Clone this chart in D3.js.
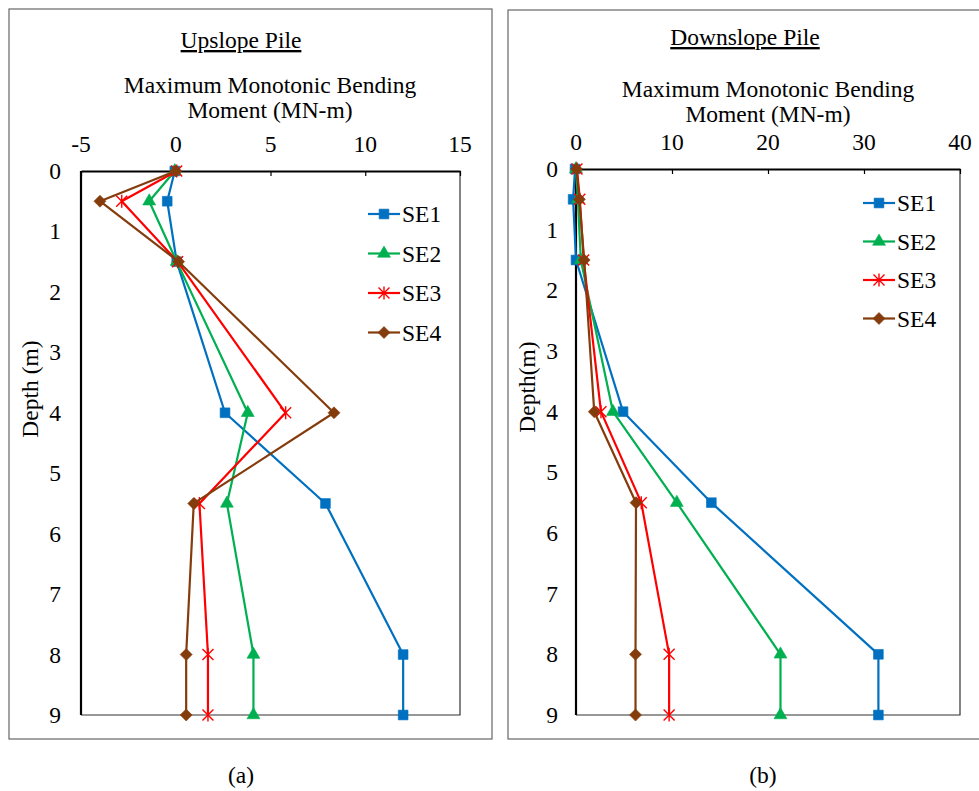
<!DOCTYPE html>
<html>
<head>
<meta charset="utf-8">
<script src="https://cdn.jsdelivr.net/npm/d3@7"></script>
<style>
  html, body { margin: 0; padding: 0; background: #fff; }
  svg { display: block; }
</style>
</head>
<body>
<svg id="chart" width="979" height="791"></svg>
<script>
// Depth of each measurement station (m)
const depths = [0, 0.5, 1.5, 4, 5.5, 8, 9];
const seriesNames = ["SE1", "SE2", "SE3", "SE4"];
const seriesColors = ["#0070C0", "#00B050", "#FF0000", "#843C0C"];
const seriesMarkers = ["square", "triangle", "star", "diamond"];

// Upslope pile: maximum monotonic bending moment (MN-m)
const upSE1 = [-0.05, -0.45, 0.05, 2.6, 7.9, 12.0, 12.0];
const upSE2 = [-0.05, -1.4, 0.05, 3.8, 2.7, 4.1, 4.1];
const upSE3 = [0.05, -2.85, 0.1, 5.8, 1.25, 1.7, 1.7];
const upSE4 = [0.0, -4.0, 0.15, 8.35, 0.95, 0.55, 0.55];

// Downslope pile: maximum monotonic bending moment (MN-m)
const downSE1 = [-0.1, -0.3, 0.0, 4.9, 14.1, 31.5, 31.5];
const downSE2 = [0.0, 0.2, 0.5, 3.85, 10.5, 21.3, 21.3];
const downSE3 = [0.1, 0.4, 0.8, 2.6, 6.8, 9.7, 9.7];
const downSE4 = [0.05, 0.35, 0.85, 1.9, 6.25, 6.2, 6.2];

const upTicks = [-5, 0, 5, 10, 15];
const downTicks = [0, 10, 20, 30, 40];
const depthTicks = [0, 1, 2, 3, 4, 5, 6, 7, 8, 9];

const svg = d3.select("#chart");
const SERIF = "'Liberation Serif', 'Times New Roman', Times, serif";
const FONT = 23.5;

function markerPath(kind) {
  if (kind === "square") return d3.symbol(d3.symbolSquare, 95)();
  if (kind === "triangle") return d3.symbol(d3.symbolTriangle, 72)();
  if (kind === "diamond") return "M0,-6L6,0L0,6L-6,0Z";
  // asterisk-style star: an X crossed by a vertical stroke
  const r = 5.5;
  return `M${-r},${-r}L${r},${r}M${-r},${r}L${r},${-r}M0,${-r - 1}L0,${r + 1}`;
}

function drawMarker(g, kind, color, x, y) {
  const p = g.append("path")
    .attr("d", markerPath(kind))
    .attr("transform", `translate(${x},${y})`);
  if (kind === "star") {
    p.attr("fill", "none").attr("stroke", color).attr("stroke-width", 1.4);
  } else {
    p.attr("fill", color).attr("stroke", color).attr("stroke-width", 0.6);
  }
}

function label(g) {
  return g.append("text").attr("font-family", SERIF).attr("font-size", FONT).attr("fill", "#000");
}

function panel(cfg) {
  const g = svg.append("g");

  // outer frame
  g.append("rect")
    .attr("x", cfg.box[0]).attr("y", cfg.box[1])
    .attr("width", cfg.box[2] - cfg.box[0]).attr("height", cfg.box[3] - cfg.box[1])
    .attr("fill", "none").attr("stroke", "#666").attr("stroke-width", 1.2);

  const x = d3.scaleLinear().domain(cfg.xDomain).range([cfg.plot.left, cfg.plot.right]);
  const y = d3.scaleLinear().domain([0, 9]).range([cfg.plot.top, cfg.plot.bottom]);

  // right / bottom plot border
  g.append("path")
    .attr("d", `M${cfg.plot.left},${cfg.plot.bottom}H${cfg.plot.right}V${cfg.plot.top}`)
    .attr("fill", "none").attr("stroke", "#333").attr("stroke-width", 1.2);

  // top x axis (ticks pointing into the plot)
  const xAxis = g.append("g")
    .attr("transform", `translate(0,${cfg.plot.top})`)
    .call(d3.axisBottom(x).tickValues(cfg.xTicks).tickSizeInner(5).tickSizeOuter(0).tickFormat(d3.format("d")));
  xAxis.select(".domain").attr("stroke", "#000").attr("stroke-width", 2.2);
  xAxis.selectAll(".tick line").attr("stroke", "#000").attr("stroke-width", 1.2);
  xAxis.selectAll(".tick text").remove();
  cfg.xTicks.forEach(d => {
    label(g).attr("x", x(d)).attr("y", cfg.xLabelY).attr("text-anchor", "middle").text(d);
  });

  // left depth axis
  g.append("line")
    .attr("x1", cfg.plot.left).attr("x2", cfg.plot.left)
    .attr("y1", cfg.plot.top).attr("y2", cfg.plot.bottom)
    .attr("stroke", "#000").attr("stroke-width", 2.2);
  depthTicks.forEach(d => {
    label(g).attr("x", cfg.yLabelX).attr("y", y(d) + 8).attr("text-anchor", "middle").text(d);
  });

  // depth axis title
  label(g)
    .attr("transform", `translate(${cfg.yTitle[0]},${cfg.yTitle[1]}) rotate(-90)`)
    .attr("text-anchor", "middle")
    .text(cfg.yTitleText);

  // panel title (underlined)
  label(g)
    .attr("x", cfg.title[0]).attr("y", cfg.title[1])
    .attr("text-anchor", "middle")
    .attr("text-decoration", "underline")
    .text(cfg.titleText);

  // moment axis title (two lines)
  const t = label(g).attr("text-anchor", "middle");
  t.append("tspan").attr("x", cfg.xTitle[0]).attr("y", cfg.xTitle[1]).text("Maximum Monotonic Bending");
  t.append("tspan").attr("x", cfg.xTitle[0]).attr("y", cfg.xTitle[1] + 24.5).text("Moment (MN-m)");

  // series lines and markers
  const line = d3.line().x(d => x(d[0])).y(d => y(d[1]));
  cfg.series.forEach((vals, i) => {
    const pts = vals.map((v, j) => [v, depths[j]]);
    g.append("path").datum(pts)
      .attr("d", line).attr("fill", "none")
      .attr("stroke", seriesColors[i]).attr("stroke-width", 2.2)
      .attr("stroke-linejoin", "round");
    const mg = g.append("g");
    pts.forEach(p => drawMarker(mg, seriesMarkers[i], seriesColors[i], x(p[0]), y(p[1])));
  });

  // legend
  const lg = g.append("g");
  seriesNames.forEach((name, i) => {
    const ly = cfg.legend.y + i * cfg.legend.step;
    lg.append("line")
      .attr("x1", cfg.legend.x).attr("x2", cfg.legend.x + 32)
      .attr("y1", ly).attr("y2", ly)
      .attr("stroke", seriesColors[i]).attr("stroke-width", 2.2);
    drawMarker(lg, seriesMarkers[i], seriesColors[i], cfg.legend.x + 16, ly);
    label(lg).attr("x", cfg.legend.x + 34).attr("y", ly + 8).text(name);
  });

  // caption below the frame
  label(svg)
    .attr("x", cfg.caption[0]).attr("y", cfg.caption[1])
    .attr("text-anchor", "middle")
    .text(cfg.captionText);
}

panel({
  box: [9, 9, 492, 739],
  plot: { left: 81, right: 460, top: 171, bottom: 715 },
  xDomain: [-5, 15],
  xTicks: upTicks,
  xLabelY: 152,
  yLabelX: 55,
  yTitle: [38, 389],
  yTitleText: "Depth (m)",
  title: [241, 48],
  titleText: "Upslope Pile",
  xTitle: [270, 93],
  series: [upSE1, upSE2, upSE3, upSE4],
  legend: { x: 368, y: 214, step: 39.5 },
  caption: [241, 783],
  captionText: "(a)"
});

panel({
  box: [508, 10, 985, 739],
  plot: { left: 576, right: 960, top: 169, bottom: 715 },
  xDomain: [0, 40],
  xTicks: downTicks,
  xLabelY: 150,
  yLabelX: 552,
  yTitle: [535, 387],
  yTitleText: "Depth(m)",
  title: [745, 45],
  titleText: "Downslope Pile",
  xTitle: [768, 97],
  series: [downSE1, downSE2, downSE3, downSE4],
  legend: { x: 863, y: 203, step: 38.5 },
  caption: [763, 783],
  captionText: "(b)"
});
</script>
</body>
</html>
